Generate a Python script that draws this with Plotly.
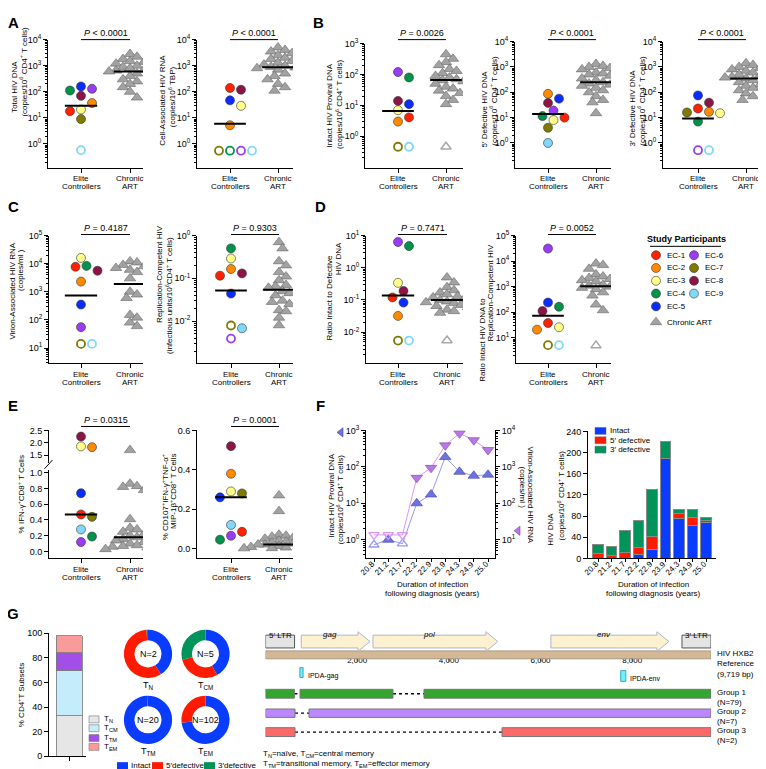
import math
import plotly.graph_objects as go

W, H = 766, 769
FONT = "Arial, 'Liberation Sans', Helvetica, sans-serif"

# ===================== DATA =====================
EC_LABELS = ["EC-1", "EC-2", "EC-3", "EC-4", "EC-5", "EC-6", "EC-7", "EC-8", "EC-9"]
GROUP_LABELS = [["Elite", "Controllers"], ["Chronic", "ART"]]

A1_EC = [18, 37, 21, 112, 160, 130, 9, 70, 0.58]
A1_EC_UND = ["EC-9"]
A1_ART = [2800, 2200, 1800, 1500, 1400, 1200, 1000, 900, 850, 800, 700, 650, 600, 550, 500, 400, 300, 250, 200, 150, 100, 60]
A1_ART_UND = []
A1_LINE = [29, 600]
A1_P = "<i>P</i> < 0.0001"

A2_EC = [140, 5.2, 29, 0.55, 47, 0.55, 0.55, 120, 0.55]
A2_EC_UND = ["EC-4", "EC-6", "EC-7", "EC-9"]
A2_ART = [5000, 4000, 3500, 3000, 2500, 2000, 1800, 1500, 1300, 1100, 1000, 900, 850, 800, 700, 600, 500, 400, 300, 200, 150, 110]
A2_ART_UND = []
A2_LINE = [6, 870]
A2_P = "<i>P</i> < 0.0001"

B1_EC = [4.1, 3, 7, 80, 11, 120, 0.46, 14, 0.46]
B1_EC_UND = ["EC-7", "EC-9"]
B1_ART = [450, 320, 250, 200, 150, 130, 110, 90, 80, 70, 65, 60, 50, 40, 35, 30, 25, 20, 15, 11]
B1_ART_UND = [0.46]
B1_LINE = [6.6, 66]
B1_P = "<i>P</i> = 0.0026"

B2_EC = [10, 87, 8, 11.5, 56, 19, 4, 38, 1.0]
B2_EC_UND = []
B2_ART = [1300, 1100, 1000, 900, 800, 700, 600, 550, 500, 450, 350, 300, 250, 220, 200, 180, 150, 120, 100, 70, 50, 40, 15]
B2_ART_UND = []
B2_LINE = [14, 250]
B2_P = "<i>P</i> < 0.0001"

B3_EC = [23, 17, 15, 7, 75, 0.52, 16, 39, 0.52]
B3_EC_UND = ["EC-6", "EC-9"]
B3_ART = [1400, 1200, 1000, 900, 800, 700, 600, 550, 500, 450, 400, 380, 350, 330, 300, 280, 250, 200, 180, 150, 120, 90, 70, 50]
B3_ART_UND = []
B3_LINE = [9.3, 350]
B3_P = "<i>P</i> < 0.0001"

C1_EC = [7700, 2300, 16000, 8300, 350, 55, 14, 5600, 14]
C1_EC_UND = ["EC-7", "EC-9"]
C1_ART = [12000, 11000, 9000, 8000, 7000, 6000, 5000, 3000, 1000, 800, 600, 150, 120, 80, 60]
C1_ART_UND = []
C1_LINE = [740, 1900]
C1_P = "<i>P</i> = 0.4187"

C2_EC = [0.115, 0.165, 0.29, 0.5, 0.044, 0.0039, 0.0079, 0.13, 0.0068]
C2_EC_UND = ["EC-6", "EC-7"]
C2_ART = [0.7, 0.5, 0.25, 0.2, 0.14, 0.11, 0.09, 0.07, 0.065, 0.06, 0.05, 0.045, 0.04, 0.03, 0.028, 0.025, 0.018, 0.017, 0.012, 0.008]
C2_ART_UND = []
C2_LINE = [0.052, 0.054]
C2_P = "<i>P</i> = 0.9303"

D1_EC = [0.12, 0.032, 0.34, 4.7, 0.083, 6.3, 0.0055, 0.19, 0.0055]
D1_EC_UND = ["EC-7", "EC-9"]
D1_ART = [0.5, 0.35, 0.25, 0.2, 0.17, 0.15, 0.13, 0.12, 0.11, 0.1, 0.09, 0.085, 0.08, 0.07, 0.065, 0.06, 0.05, 0.045, 0.04]
D1_ART_UND = [0.0055]
D1_LINE = [0.138, 0.1]
D1_P = "<i>P</i> = 0.7471"

D2_EC = [38, 21, 26, 165, 240, 31000, 5.2, 112, 5.2]
D2_EC_UND = ["EC-7", "EC-9"]
D2_ART = [8000, 7000, 5000, 3000, 2500, 2200, 2000, 1800, 1600, 1400, 1200, 1100, 1000, 900, 800, 700, 600, 450, 200, 120]
D2_ART_UND = [5]
D2_LINE = [74, 1050]
D2_P = "<i>P</i> = 0.0052"

E1_EC = [0.47, 1.82, 1.85, 0.19, 0.74, 0.12, 0.44, 2.25, 0.28]
E1_ART = [1.7, 0.86, 0.83, 0.82, 0.78, 0.41, 0.3, 0.28, 0.25, 0.22, 0.2, 0.18, 0.16, 0.14, 0.12, 0.1, 0.08, 0.07, 0.06, 0.05, 0.04, 0.03, 0.02]
E1_LINE = [0.47, 0.18]
E1_P = "<i>P</i> = 0.0315"

E2_EC = [0.085, 0.38, 0.29, 0.045, 0.26, 0.065, 0.28, 0.52, 0.12]
E2_ART = [0.27, 0.19, 0.07, 0.065, 0.06, 0.055, 0.05, 0.045, 0.04, 0.035, 0.03, 0.025, 0.02, 0.02, 0.015, 0.012, 0.01, 0.008, 0.005, 0.003, 0.002, 0.001, 0.0]
E2_LINE = [0.26, 0.02]
E2_P = "<i>P</i> = 0.0001"

F_YEARS = ["20.8", "21.2", "21.7", "22.2", "22.9", "23.9", "24.3", "24.9", "25.0"]
F_INTACT = [0.73, 1.0, 0.78, 10, 17.5, 186, 73, 57, 61]
F_INTACT_UND = ["20.8", "21.7"]
F_VIRION = [13.6, 13.6, 13.6, 500, 940, 3900, 8300, 5400, 2900]
F_VIRION_UND = ["20.8", "21.2", "21.7"]
F_BAR_NAMES = ["Intact", "5′ defective", "3′ defective"]
F_BAR_INTACT = [0, 0, 0, 8, 17, 188, 75, 62, 68]
F_BAR_5DEF = [10, 6, 12, 13, 25, 0, 10, 16, 4]
F_BAR_3DEF = [17, 16, 41, 50, 88, 33, 8, 15, 5]

G_SUBSETS = ["T<sub>N</sub>", "T<sub>CM</sub>", "T<sub>TM</sub>", "T<sub>EM</sub>"]
G_SUBSET_PCT = [33, 37, 14, 14]
G_DONUT_LABELS = ["Intact", "5′defective", "3′defective"]
G_DONUT_N = ["N=2", "N=5", "N=20", "N=102"]
G_DONUT_VALUES = [[41, 58, 1], [42, 29, 29], [99.3, 0, 0.7], [73, 27, 0]]

GENOME_LEN = 9719
GENE_NAMES = ["gag", "pol", "env"]
GENE_START = [780, 2345, 6225]
GENE_END = [2280, 5070, 8800]
LTR_NAMES = ["5′ LTR", "3′ LTR"]
LTR_START = [1, 9086]
LTR_END = [634, 9719]
IPDA_NAMES = ["IPDA-gag", "IPDA-env"]
IPDA_START = [750, 7750]
IPDA_END = [820, 7860]
GENOME_TICKS = [2000, 4000, 6000, 8000]
GROUP_NAMES = ["Group 1<br>(N=79)", "Group 2<br>(N=7)", "Group 3<br>(N=2)"]
GROUP_SEGMENTS = [[(1, 630), (753, 2781), (3458, 9719)],
                  [(1, 644), (949, 9719)],
                  [(1, 644), (5160, 9719)]]

# ===================== STYLE =====================
EC_COLORS = ["#ff2200", "#ff8a00", "#ffff8a", "#00934a", "#0a2cff", "#9a3cf5", "#7f7a00", "#8c1446", "#80d8fa"]
ART_FILL, ART_EDGE, ART_OPEN = "#a2a2a2", "#666666", "#a8a8a8"
BLUE, RED, GREEN = "#0a3cff", "#ff1a00", "#00935a"
SUBSET_COLORS = ["#e6e6e6", "#c4ecfb", "#a24fe8", "#f99b9b"]
GROUP_COLORS = ["#35a532", "#bb88ff", "#ff6868"]


def xd(a, b):
    return [a / W, b / W]


def yd(top, bot):
    return [1 - bot / H, 1 - top / H]


def PX(x):
    return x / W


def PY(y):
    return 1 - y / H


fig = go.Figure()
L = dict(width=W, height=H, margin=dict(l=0, r=0, t=0, b=0), paper_bgcolor="white",
         plot_bgcolor="rgba(0,0,0,0)", showlegend=False, barmode="stack",
         font=dict(family=FONT, size=8, color="black"))
annotations, shapes = [], []

AX = dict(showline=True, linecolor="black", linewidth=1, ticks="outside", tickcolor="black",
          ticklen=4, tickwidth=1, showgrid=False, zeroline=False, fixedrange=True,
          tickfont=dict(size=9, family=FONT, color="black"))


def names(i):
    s = "" if i == 1 else str(i)
    return "xaxis" + s, "yaxis" + s, "x" + s, "y" + s


def ann(text, x, y, size=8, angle=0, xanchor="center", yanchor="middle", **kw):
    annotations.append(dict(xref="paper", yref="paper", x=PX(x), y=PY(y), text=text, showarrow=False,
                            textangle=angle, xanchor=xanchor, yanchor=yanchor,
                            font=dict(size=size, family=FONT, color="black"), **kw))


def cat_labels(xn, axis_y):
    for c, lines in enumerate(GROUP_LABELS):
        for j, t in enumerate(lines):
            annotations.append(dict(xref=xn, yref="paper", x=c, y=PY(axis_y + 11.5 + 8 * j), text=t,
                                    showarrow=False, xanchor="center", yanchor="middle",
                                    font=dict(size=8, family=FONT, color="black")))


def log_ticks(exps, r0, r1):
    minor = []
    for k in range(math.floor(r0) - 1, math.ceil(r1) + 1):
        for m in range(2, 10):
            v = m * 10 ** k
            if r0 <= math.log10(v) <= r1:
                minor.append(v)
    return dict(type="log", tickvals=[10 ** e for e in exps],
                ticktext=["10<sup>%d</sup>" % e for e in exps],
                minor=dict(ticks="outside", ticklen=2, tickcolor="black", tickwidth=0.8,
                           tickmode="array", tickvals=minor))


def ypix(v, rng, ypx, log):
    t = math.log10(v) if log else v
    return ypx[1] - (t - rng[0]) / (rng[1] - rng[0]) * (ypx[1] - ypx[0])


def swarm(pys, diam, step):
    n = len(pys)
    order = sorted(range(n), key=lambda k: pys[k])
    cands = [0.0]
    for j in range(1, 40):
        cands += [j * step, -j * step]
    placed, offs = [], [0.0] * n
    for k in order:
        y = pys[k]
        for c in cands:
            if all((c - px) ** 2 + (y - py) ** 2 >= diam * diam for px, py in placed):
                break
        placed.append((c, y))
        offs[k] = c
    return offs


def add_points(xn, yn, center, u, vals, flags, pys, kind, colors=None, diam=None):
    if diam is None:
        diam = 9.2 if kind == "ec" else 7.0
    offs = swarm(pys, diam, 5.5 if kind == "ec" else 3.5)
    xs = [center + o / u for o in offs]
    fi = [k for k in range(len(vals)) if not flags[k]]
    oi = [k for k in range(len(vals)) if flags[k]]
    if kind == "ec":
        if fi:
            fig.add_trace(go.Scatter(x=[xs[k] for k in fi], y=[vals[k] for k in fi], mode="markers",
                                     xaxis=xn, yaxis=yn, hoverinfo="skip",
                                     marker=dict(symbol="circle", size=9, color=[colors[k] for k in fi],
                                                 line=dict(color="#333333", width=0.6))))
        if oi:
            fig.add_trace(go.Scatter(x=[xs[k] for k in oi], y=[vals[k] for k in oi], mode="markers",
                                     xaxis=xn, yaxis=yn, hoverinfo="skip",
                                     marker=dict(symbol="circle-open", size=8, color=[colors[k] for k in oi],
                                                 line=dict(width=1.8))))
    else:
        if fi:
            fig.add_trace(go.Scatter(x=[xs[k] for k in fi], y=[vals[k] for k in fi], mode="markers",
                                     xaxis=xn, yaxis=yn, hoverinfo="skip",
                                     marker=dict(symbol="triangle-up", size=10, color=ART_FILL,
                                                 line=dict(color=ART_EDGE, width=0.6))))
        if oi:
            fig.add_trace(go.Scatter(x=[xs[k] for k in oi], y=[vals[k] for k in oi], mode="markers",
                                     xaxis=xn, yaxis=yn, hoverinfo="skip",
                                     marker=dict(symbol="triangle-up-open", size=9, color=ART_OPEN,
                                                 line=dict(width=1.5))))


def bracket(xn, line_y, text_y, text):
    shapes.append(dict(type="line", xref=xn, yref="paper", x0=0, x1=1, y0=PY(line_y), y1=PY(line_y),
                       line=dict(color="black", width=1)))
    annotations.append(dict(xref=xn, yref="paper", x=0.5, y=PY(text_y), text=text, showarrow=False,
                            xanchor="center", yanchor="middle", font=dict(size=9, family=FONT, color="black")))


def center_lines(xn, yn, lines):
    for c, v in zip([0, 1], lines):
        fig.add_trace(go.Scatter(x=[c - 0.33, c + 0.33], y=[v, v], mode="lines", xaxis=xn, yaxis=yn,
                                 hoverinfo="skip", line=dict(color="black", width=2)))


def cat_xaxis(g, yn):
    xr = [(g["x"][0] - g["ec"]) / g["u"], (g["x"][1] - g["ec"]) / g["u"]]
    return dict(AX, domain=xd(*g["x"]), range=xr, anchor=yn, tickvals=[0, 1], ticktext=["", ""])


def dot_panel(i, g, ec_vals, ec_und, art_vals, art_und, lines, ptxt, exps, brk):
    xk, yk, xn, yn = names(i)
    L[xk] = cat_xaxis(g, yn)
    L[yk] = dict(AX, domain=yd(*g["y"]), range=list(g["yr"]), anchor=xn, **log_ticks(exps, *g["yr"]))
    av = list(art_vals) + list(art_und)
    af = [False] * len(art_vals) + [True] * len(art_und)
    add_points(xn, yn, 1, g["u"], av, af, [ypix(v, g["yr"], g["y"], True) for v in av], "art")
    ef = [lab in ec_und for lab in EC_LABELS]
    add_points(xn, yn, 0, g["u"], list(ec_vals), ef, [ypix(v, g["yr"], g["y"], True) for v in ec_vals],
               "ec", EC_COLORS)
    center_lines(xn, yn, lines)
    bracket(xn, brk[0], brk[1], ptxt)
    cat_labels(xn, g["y"][1])


ROW1, ROW2, ROW3 = (25, 18.5), (223, 216.5), (418, 411.5)
dot_panel(1, dict(x=(40, 135), ec=73, u=49, y=(25, 155), yr=(-0.906, 4)), A1_EC, A1_EC_UND, A1_ART, A1_ART_UND, A1_LINE, A1_P, range(0, 5), ROW1)
dot_panel(2, dict(x=(189, 285), ec=222, u=48, y=(25, 155), yr=(-0.906, 4)), A2_EC, A2_EC_UND, A2_ART, A2_ART_UND, A2_LINE, A2_P, range(0, 5), ROW1)
dot_panel(3, dict(x=(357, 455), ec=390, u=48, y=(29, 155), yr=(-1.01, 3)), B1_EC, B1_EC_UND, B1_ART, B1_ART_UND, B1_LINE, B1_P, range(0, 4), ROW1)
dot_panel(4, dict(x=(507, 603), ec=540, u=48, y=(27, 155), yr=(-0.97, 4)), B2_EC, B2_EC_UND, B2_ART, B2_ART_UND, B2_LINE, B2_P, range(0, 5), ROW1)
dot_panel(5, dict(x=(655, 753), ec=690, u=48, y=(27, 155), yr=(-0.97, 4)), B3_EC, B3_EC_UND, B3_ART, B3_ART_UND, B3_LINE, B3_P, range(0, 5), ROW1)
dot_panel(6, dict(x=(41, 135), ec=73, u=49, y=(224, 354), yr=(0.45, 5)), C1_EC, C1_EC_UND, C1_ART, C1_ART_UND, C1_LINE, C1_P, range(1, 6), ROW2)
dot_panel(7, dict(x=(189, 285), ec=223, u=48, y=(224, 354), yr=(-2.99, 0)), C2_EC, C2_EC_UND, C2_ART, C2_ART_UND, C2_LINE, C2_P, range(-2, 1), ROW2)
dot_panel(8, dict(x=(358, 455), ec=390, u=49, y=(224, 354), yr=(-2.97, 1)), D1_EC, D1_EC_UND, D1_ART, D1_ART_UND, D1_LINE, D1_P, range(-2, 2), ROW2)
dot_panel(9, dict(x=(508, 603), ec=540, u=48, y=(224, 354), yr=(0.0, 5)), D2_EC, D2_EC_UND, D2_ART, D2_ART_UND, D2_LINE, D2_P, range(1, 6), ROW2)

# ---------- E1 (broken axis) ----------
E1G = dict(x=(41, 135), ec=73, u=49)
E1_LO = dict(y=(462, 552), yr=(-0.0875, 1.0375))
E1_HI = dict(y=(422, 455), yr=(1.18, 2.5))
E1_SPLIT = 1.1
L["xaxis10"] = cat_xaxis(E1G, "y10")
L["yaxis10"] = dict(AX, domain=yd(*E1_LO["y"]), range=list(E1_LO["yr"]), anchor="x10",
                    tickvals=[0, 0.2, 0.4, 0.6, 0.8, 1.0], ticktext=["0.0", "0.2", "0.4", "0.6", "0.8", "1.0"])
L["yaxis11"] = dict(AX, domain=yd(*E1_HI["y"]), range=list(E1_HI["yr"]), anchor="x10",
                    tickvals=[1.5, 2.0, 2.5], ticktext=["1.5", "2.0", "2.5"])
for center, vals, kind in [(1, E1_ART, "art"), (0, E1_EC, "ec")]:
    for part, yn in [(E1_LO, "y10"), (E1_HI, "y11")]:
        idx = [k for k, v in enumerate(vals) if (v > E1_SPLIT) == (yn == "y11")]
        if not idx:
            continue
        vv = [vals[k] for k in idx]
        cols = [EC_COLORS[k] for k in idx] if kind == "ec" else None
        add_points("x10", yn, center, 49, vv, [False] * len(vv),
                   [ypix(v, part["yr"], part["y"], False) for v in vv], kind, cols,
                   diam=6.5 if kind == "art" else None)
center_lines("x10", "y10", E1_LINE)
bracket("x10", ROW3[0], ROW3[1], E1_P)
cat_labels("x10", 552)
shapes.append(dict(type="line", xref="paper", yref="paper", x0=PX(36.5), x1=PX(44.5), y0=PY(461), y1=PY(452),
                   line=dict(color="black", width=1)))

# ---------- E2 ----------
E2G = dict(x=(189, 285), ec=223, u=48)
L["xaxis12"] = cat_xaxis(E2G, "y12")
L["yaxis12"] = dict(AX, domain=yd(422, 552), range=[-0.05, 0.6], anchor="x12",
                    tickvals=[0, 0.2, 0.4, 0.6], ticktext=["0.0", "0.2", "0.4", "0.6"])
add_points("x12", "y12", 1, 48, E2_ART, [False] * len(E2_ART),
           [ypix(v, (-0.05, 0.6), (422, 552), False) for v in E2_ART], "art", diam=5.5)
add_points("x12", "y12", 0, 48, E2_EC, [False] * 9,
           [ypix(v, (-0.05, 0.6), (422, 552), False) for v in E2_EC], "ec", EC_COLORS)
center_lines("x12", "y12", E2_LINE)
bracket("x12", ROW3[0], ROW3[1], E2_P)
cat_labels("x12", 552)

# ---------- F1 (dual log axes) ----------
FX = list(range(len(F_YEARS)))


def rotated_ticks(xn, upx):
    for k, t in zip(FX, F_YEARS):
        annotations.append(dict(xref=xn, yref="paper", x=k - 6.5 / upx, y=PY(562.5), text=t, textangle=-45,
                                showarrow=False, xanchor="center", yanchor="middle",
                                font=dict(size=8, family=FONT, color="black")))


L["xaxis13"] = dict(AX, domain=xd(358, 487), range=[(358 - 366) / 14.25, (487 - 366) / 14.25], anchor="y13",
                    tickvals=FX, ticktext=[""] * len(FX), ticklen=3)
rotated_ticks("x13", 14.25)
L["yaxis13"] = dict(AX, domain=yd(422, 552), range=[-0.51, 3], anchor="x13", **log_ticks(range(0, 4), -0.51, 3))
L["yaxis14"] = dict(AX, domain=yd(422, 552), range=[0.49, 4], anchor="x13", overlaying="y13", side="right",
                    **log_ticks(range(1, 5), 0.49, 4))
for vals, und, yn, lc, fc, ec, sym in [
        (F_INTACT, F_INTACT_UND, "y13", "#9699f5", "#6d72e0", "#3f43a8", "triangle-up"),
        (F_VIRION, F_VIRION_UND, "y14", "#dc94f5", "#b777e6", "#7c3fa8", "triangle-down")]:
    fig.add_trace(go.Scatter(x=FX, y=vals, mode="lines", xaxis="x13", yaxis=yn, hoverinfo="skip",
                             line=dict(color=lc, width=1)))
    fi = [k for k in FX if F_YEARS[k] not in und]
    oi = [k for k in FX if F_YEARS[k] in und]
    fig.add_trace(go.Scatter(x=fi, y=[vals[k] for k in fi], mode="markers", xaxis="x13", yaxis=yn,
                             hoverinfo="skip", marker=dict(symbol=sym, size=10, color=fc, line=dict(color=ec, width=0.6))))
    fig.add_trace(go.Scatter(x=oi, y=[vals[k] for k in oi], mode="markers", xaxis="x13", yaxis=yn,
                             hoverinfo="skip", marker=dict(symbol=sym + "-open", size=9, color=lc, line=dict(width=1.3))))

# ---------- F2 (stacked bars) ----------
L["xaxis15"] = dict(AX, domain=xd(580, 708), range=[(580 - 590) / 13.5, (708 - 590) / 13.5], anchor="y15",
                    tickvals=FX, ticktext=[""] * len(FX), ticklen=3)
rotated_ticks("x15", 13.5)
L["yaxis15"] = dict(AX, domain=yd(423, 552), range=[0, 240], anchor="x15",
                    tickvals=[0, 40, 80, 120, 160, 200, 240])
for vals, col, nm in [(F_BAR_INTACT, BLUE, F_BAR_NAMES[0]), (F_BAR_5DEF, RED, F_BAR_NAMES[1]),
                      (F_BAR_3DEF, GREEN, F_BAR_NAMES[2])]:
    fig.add_trace(go.Bar(x=FX, y=vals, width=0.75, name=nm, xaxis="x15", yaxis="y15", hoverinfo="skip",
                         marker=dict(color=col, line=dict(color="#8a8a8a", width=1))))

# ---------- G1 stacked subset bar ----------
L["xaxis16"] = dict(AX, domain=xd(41, 78), range=[-20, 17], anchor="y16", tickvals=[0], ticktext=[""])
L["yaxis16"] = dict(AX, domain=yd(628, 753), range=[0, 100], anchor="x16", tickvals=[0, 20, 40, 60, 80, 100])
for v, col, nm in zip(G_SUBSET_PCT, SUBSET_COLORS, G_SUBSETS):
    fig.add_trace(go.Bar(x=[0], y=[v], width=26, name=nm, xaxis="x16", yaxis="y16", hoverinfo="skip",
                         marker=dict(color=col, line=dict(color="#777777", width=0.8))))

# ---------- donuts ----------
DONUT_POS = [(140, 649), (197.5, 649), (140, 716), (197.5, 716)]
DONUT_R = 24.5
for vals, (cx, cy), n, sub in zip(G_DONUT_VALUES, DONUT_POS, G_DONUT_N, G_SUBSETS):
    fig.add_trace(go.Pie(values=vals, labels=G_DONUT_LABELS, sort=False, direction="clockwise", rotation=0,
                         hole=0.56, textinfo="none", hoverinfo="skip",
                         marker=dict(colors=[BLUE, RED, GREEN], line=dict(width=0)),
                         domain=dict(x=xd(cx - DONUT_R, cx + DONUT_R), y=yd(cy - DONUT_R, cy + DONUT_R))))
    ann(n, cx, cy, size=9)
    ann(sub, cx, cy + 32, size=9)

# ---------- genome map ----------
GX0, GX1 = 257.5, 703
L["xaxis17"] = dict(domain=xd(GX0, GX1), range=[0, GENOME_LEN], anchor="y17", showline=False, showgrid=False,
                    zeroline=False, ticks="", fixedrange=True,
                    tickvals=GENOME_TICKS, ticktext=["{:,}".format(t) for t in GENOME_TICKS],
                    tickfont=dict(size=8, family=FONT, color="black"))
L["yaxis17"] = dict(domain=yd(641, 649), range=[0, 1], anchor="x17", visible=False, fixedrange=True)
BPPX = GENOME_LEN / (GX1 - GX0)


def grect(x0, x1, top, bot, fill, line="#777777", lw=1):
    shapes.append(dict(type="rect", xref="x17", yref="paper", x0=x0, x1=x1, y0=PY(bot), y1=PY(top),
                       fillcolor=fill, line=dict(color=line, width=lw), layer="above"))


grect(0, GENOME_LEN, 646, 654, "#d4b895", "#a89880")
for t in GENOME_TICKS:
    shapes.append(dict(type="line", xref="x17", yref="paper", x0=t, x1=t, y0=PY(654), y1=PY(657),
                       line=dict(color="#444", width=1)))
for s, e, nm in zip(GENE_START, GENE_END, GENE_NAMES):
    hb = e - 12 * BPPX
    path = "M %f,%f L %f,%f L %f,%f L %f,%f L %f,%f L %f,%f L %f,%f Z" % (
        s, PY(630), hb, PY(630), hb, PY(626.5), e, PY(636.5), hb, PY(646.5), hb, PY(643), s, PY(643))
    shapes.append(dict(type="path", xref="x17", yref="paper", path=path, fillcolor="#fdf1cf",
                       line=dict(color="#a9b8cc", width=1)))
    annotations.append(dict(xref="x17", yref="paper", x=(s + hb) / 2, y=PY(635.5), text="<i>%s</i>" % nm,
                            showarrow=False, font=dict(size=8, family=FONT, color="black")))
for s, e, nm in zip(LTR_START, LTR_END, LTR_NAMES):
    grect(s, e, 630, 643, "#e4e4e4", "#555555")
    annotations.append(dict(xref="x17", yref="paper", x=(s + e) / 2, y=PY(636.5), text=nm, showarrow=False,
                            font=dict(size=8, family=FONT, color="black")))
for (s, e, nm), (top, bot) in zip(zip(IPDA_START, IPDA_END, IPDA_NAMES), [(663, 673), (666, 677)]):
    grect(s, e, top, bot, "#6ef2ff", "#3aa6b8")
    annotations.append(dict(xref="x17", yref="paper", x=e + 2.5 * BPPX, y=PY(top + 8), text=nm, showarrow=False,
                            xanchor="left", yanchor="middle", font=dict(size=7, family=FONT, color="black")))
ann("HIV HXB2<br>Reference<br>(9,719 bp)", 707, 659, size=8, xanchor="left", align="left")

for segs, col, nm, (top, bot) in zip(GROUP_SEGMENTS, GROUP_COLORS, GROUP_NAMES,
                                     [(685, 694), (705, 713.5), (724, 733)]):
    for a, b in zip(segs[:-1], segs[1:]):
        shapes.append(dict(type="line", xref="x17", yref="paper", x0=a[1], x1=b[0], y0=PY((top + bot) / 2),
                           y1=PY((top + bot) / 2), line=dict(color="black", width=1.3, dash="dot")))
    for s, e in segs:
        grect(s, e, top, bot, col, "#777777")
    ann(nm, 707, (top + bot) / 2 + 3.5, size=8, xanchor="left", align="left")

ann("T<sub>N</sub>=naïve, T<sub>CM</sub>=central memory", 253, 750.5, size=8, xanchor="left")
ann("T<sub>TM</sub>=transitional memory, T<sub>EM</sub>=effector memory", 253, 761, size=8, xanchor="left")

# ---------- manual legends (overlay axis in pixel space) ----------
L["xaxis40"] = dict(domain=[0, 1], range=[0, W], visible=False, fixedrange=True, anchor="y40")
L["yaxis40"] = dict(domain=[0, 1], range=[H, 0], visible=False, fixedrange=True, anchor="x40")
LEG_X = [648] * 5 + [686] * 4
LEG_Y = [244, 257, 270, 283, 296, 244, 257, 270, 283]
fig.add_trace(go.Scatter(x=LEG_X, y=LEG_Y, mode="markers", xaxis="x40", yaxis="y40", hoverinfo="skip",
                         marker=dict(size=9, color=EC_COLORS, line=dict(color="#333333", width=0.6))))
for lx, ly, lab in zip(LEG_X, LEG_Y, EC_LABELS):
    ann(lab, lx + 9, ly, size=8, xanchor="left")
fig.add_trace(go.Scatter(x=[648], y=[312], mode="markers", xaxis="x40", yaxis="y40", hoverinfo="skip",
                         marker=dict(symbol="triangle-up", size=10, color=ART_FILL, line=dict(color=ART_EDGE, width=0.6))))
ann("Chronic ART", 657, 312, size=8, xanchor="left")
ann("<b>Study Participants</b>", 678, 228, size=9)
shapes.append(dict(type="line", xref="paper", yref="paper", x0=PX(642), x1=PX(713), y0=PY(235), y1=PY(235),
                   line=dict(color="black", width=1)))

fig.add_trace(go.Scatter(x=[333, 510], y=[424, 524], mode="markers", xaxis="x40", yaxis="y40", hoverinfo="skip",
                         marker=dict(symbol="triangle-left", size=8, color=["#6d72e0", "#b777e6"],
                                     line=dict(color=["#3f43a8", "#7c3fa8"], width=0.6))))

for (lbl, col), ly in zip(zip(F_BAR_NAMES, [BLUE, RED, GREEN]), [422.5, 432, 441.5]):
    shapes.append(dict(type="rect", xref="paper", yref="paper", x0=PX(587), x1=PX(598), y0=PY(ly + 3.5),
                       y1=PY(ly - 3.5), fillcolor=col, line=dict(color="#666", width=0.5)))
    ann(lbl, 600, ly, size=8, xanchor="left")

for lbl, col, ly in zip(G_SUBSETS, SUBSET_COLORS, [715.5, 724.5, 734.5, 743.5]):
    shapes.append(dict(type="rect", xref="paper", yref="paper", x0=PX(81), x1=PX(91), y0=PY(ly + 3.5),
                       y1=PY(ly - 3.5), fillcolor=col, line=dict(color="#777", width=0.6)))
    ann(lbl, 94, ly, size=8, xanchor="left")

for lbl, col, sx in zip(G_DONUT_LABELS, [BLUE, RED, GREEN], [109, 144, 196]):
    shapes.append(dict(type="rect", xref="paper", yref="paper", x0=PX(sx), x1=PX(sx + 11), y0=PY(766),
                       y1=PY(759), fillcolor=col, line=dict(width=0)))
    ann(lbl, sx + 12, 762.5, size=8, xanchor="left")

# ---------- axis titles ----------
CELLS = "(copies/10<sup>6</sup> CD4<sup>+</sup> T cells)"
TITLES = [
    ("Total HIV DNA", 7, 73, -90), (CELLS, 15.5, 58, -90),
    ("Cell-Associated HIV RNA", 155, 87, -90), ("(copies/10<sup>6</sup> TBP)", 163.5, 83, -90),
    ("Intact HIV Proviral DNA", 322, 92, -90), (CELLS, 330.5, 91, -90),
    ("5′ Defective HIV DNA", 477, 95, -90), (CELLS, 485, 87, -90),
    ("3′ Defective HIV DNA", 625, 95, -90), (CELLS, 633, 87, -90),
    ("Virion-Associated HIV RNA", 5, 281, -90), ("(copies/ml )", 13, 259, -90),
    ("Replication-Competent HIV", 152, 263, -90), ("(infectious units/10<sup>6</sup>CD4<sup>+</sup> T cells)", 160.5, 285, -90),
    ("Ratio Intact to Defective", 322, 288, -90), ("HIV DNA", 330, 248, -90),
    ("Ratio Intact HIV DNA to", 475, 330, -90), ("Replication-Competent HIV", 483, 282, -90),
    ("% IFN-γ<sup>+</sup>CD8<sup>+</sup> T Cells", 13, 487, -90),
    ("% CD107<sup>+</sup>IFN-γ<sup>+</sup>TNF-α<sup>+</sup>", 157, 490, -90),
    ("MIP-1β<sup>+</sup>CD8<sup>+</sup> T Cells", 165.5, 484, -90),
    ("Intact HIV Proviral DNA", 323, 488, -90), (CELLS, 332, 492, -90),
    ("Virion-Associated HIV RNA", 523, 487, 90), ("(copies/ml )", 514, 480, 90),
    ("HIV DNA", 543, 523, -90), (CELLS, 553, 488, -90),
    ("% CD4<sup>+</sup>T Subsets", 13, 691, -90),
]
for t, x, y, a in TITLES:
    ann(t, x, y, size=8, angle=a)

for cx in (424, 645):
    ann("Duration of infection", cx, 579, size=8)
    ann("following diagnosis (years)", cx, 588, size=8)

for letter, x, y in [("A", 5, 8), ("B", 310, 8), ("C", 5, 195), ("D", 312, 195), ("E", 5, 397),
                     ("F", 312, 397), ("G", 5, 608)]:
    ann("<b>%s</b>" % letter, x, y, size=15)

L["annotations"] = annotations
L["shapes"] = shapes
fig.update_layout(**L)
fig.write_html("out.html")
